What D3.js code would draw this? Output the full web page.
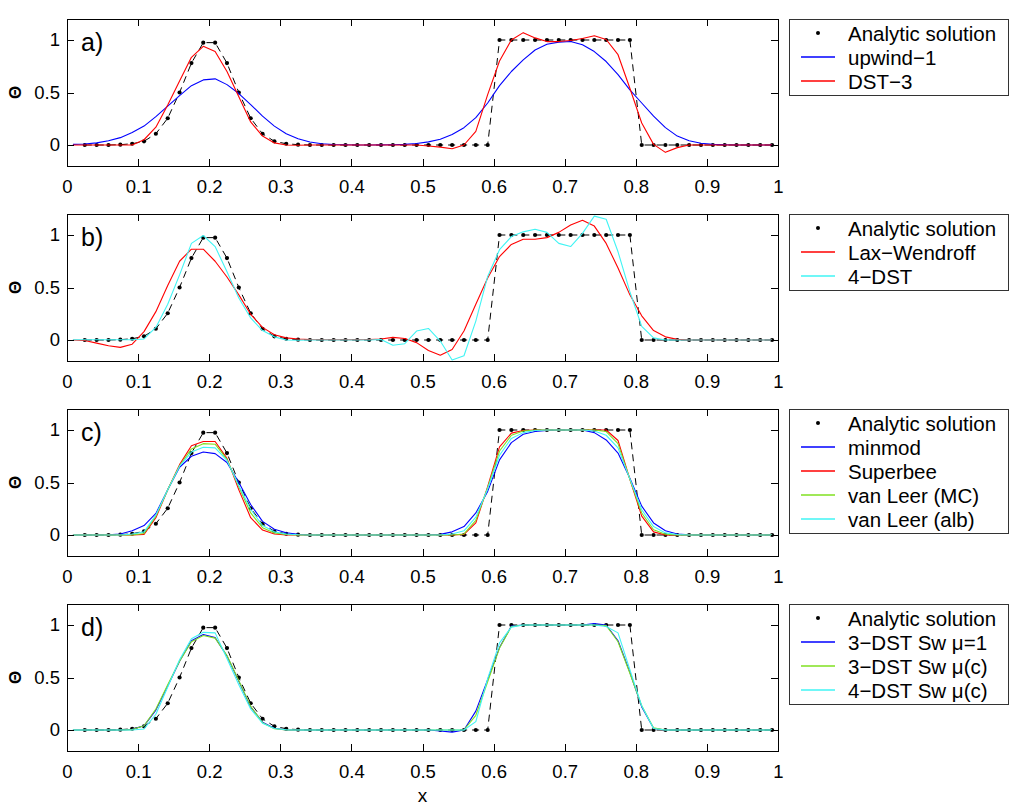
<!DOCTYPE html>
<html>
<head>
<meta charset="utf-8">
<script src="https://cdn.jsdelivr.net/npm/d3@7"></script>
<style>
  body { margin: 0; background: #fff; }
  svg { display: block; }
  text { font-family: "Liberation Sans", Arial, Helvetica, sans-serif; }
</style>
</head>
<body>
<svg width="1016" height="808"></svg>
<script>
// tick values
const xTicks = [0, 0.1, 0.2, 0.3, 0.4, 0.5, 0.6, 0.7, 0.8, 0.9, 1];
const yTicks = [0, 0.5, 1];

// 60 cell grid (null = not drawn)
const analytic = [
  null, 0, 0, 0, 0.003, 0.012, 0.035, 0.107, 0.255, 0.50,
  0.78, 0.975, 0.975, 0.78, 0.50, 0.255, 0.107, 0.035, 0.012, 0.003,
  0, 0, 0, 0, 0, 0, 0, 0, 0, 0,
  0, 0, 0, 0, 0, 0, 1, 1, 1, 1,
  1, 1, 1, 1, 1, 1, 1, 1, 0, 0,
  0, 0, 0, 0, 0, 0, 0, 0, 0, 0
];

// a)
const upwind1 = [
  0.006, 0.01, 0.02, 0.04, 0.07, 0.12, 0.18, 0.27, 0.37, 0.47,
  0.565, 0.62, 0.63, 0.575, 0.49, 0.385, 0.275, 0.18, 0.107, 0.06,
  0.028, 0.012, 0.005, 0.002, 0, 0, 0.001, 0.003, 0.006, 0.015,
  0.03, 0.055, 0.1, 0.165, 0.26, 0.40, 0.565, 0.70, 0.81, 0.905,
  0.96, 0.98, 0.985, 0.955, 0.89, 0.795, 0.67, 0.525, 0.40, 0.275,
  0.165, 0.085, 0.04, 0.016, 0.006, 0.002, 0, 0, 0, 0
];
const dst3 = [
  0, 0, 0, 0, 0, 0, 0.05, 0.17, 0.38, 0.61,
  0.835, 0.94, 0.89, 0.70, 0.46, 0.22, 0.085, 0.02, 0, -0.003,
  0, 0, 0, 0, 0, 0, 0, 0, 0, 0,
  -0.01, -0.02, -0.035, 0, 0.13, 0.48, 0.80, 1.0, 1.07, 1.02,
  0.985, 0.985, 0.995, 1.015, 1.04, 1.005, 0.86, 0.54, 0.21, 0.006,
  -0.07, -0.025, 0, 0, 0, 0, 0, 0, 0, 0
];

// b)
const laxWendroff = [
  0, -0.005, -0.03, -0.055, -0.07, -0.04, 0.08, 0.27, 0.52, 0.75,
  0.865, 0.865, 0.75, 0.60, 0.43, 0.245, 0.12, 0.05, 0.02, 0.01,
  0.005, 0.003, 0.003, 0.003, 0.003, 0.005, 0.01, 0.025, 0.015, -0.025,
  -0.10, -0.145, -0.09, 0.085, 0.34, 0.59, 0.795, 0.91, 0.96, 0.96,
  0.975, 1.025, 1.095, 1.14, 1.085, 0.92, 0.685, 0.43, 0.23, 0.09,
  0.03, 0.006, 0, 0, 0, 0, 0, 0, 0, 0
];
const dst4 = [
  0.003, 0.003, 0.003, 0.003, 0.003, 0.003, 0.01, 0.12, 0.34, 0.62,
  0.92, 0.995, 0.89, 0.65, 0.40, 0.21, 0.09, 0.03, 0, -0.003,
  0, 0, 0, 0, 0, 0, 0.005, -0.05, -0.035, 0.085,
  0.11, -0.01, -0.19, -0.15, 0.18, 0.605, 0.86, 0.985, 1.03, 1.055,
  1.025, 0.92, 0.89, 1.015, 1.18, 1.15, 0.84, 0.46, 0.13, 0.02,
  0, 0, 0, 0, 0, 0, 0, 0, 0, 0
];

// c)
const minmod = [
  0, 0, 0, 0.003, 0.01, 0.04, 0.09, 0.205, 0.43, 0.645,
  0.75, 0.79, 0.775, 0.69, 0.50, 0.29, 0.13, 0.055, 0.022, 0.006,
  0, 0, 0, 0, 0, 0, 0, 0, 0, 0,
  0.003, 0.006, 0.03, 0.08, 0.21, 0.415, 0.715, 0.88, 0.96, 0.985,
  0.995, 1, 1, 1, 0.975, 0.905, 0.78, 0.54, 0.275, 0.115,
  0.04, 0.01, 0.003, 0, 0, 0, 0, 0, 0, 0
];
const superbee = [
  0, 0, 0, 0, 0, 0, 0.006, 0.165, 0.43, 0.67,
  0.85, 0.89, 0.89, 0.73, 0.43, 0.165, 0.047, 0.01, 0, 0,
  0, 0, 0, 0, 0, 0, 0, 0, 0, 0,
  0, 0, 0, 0.006, 0.115, 0.46, 0.84, 0.97, 0.995, 1,
  1, 1, 1, 1, 1, 1, 0.9, 0.53, 0.18, 0.03,
  0, 0, 0, 0, 0, 0, 0, 0, 0, 0
];
const vanLeerMC = [
  0, 0, 0, 0, 0, 0, 0.015, 0.18, 0.43, 0.66,
  0.82, 0.87, 0.865, 0.72, 0.46, 0.21, 0.07, 0.02, 0.005, 0,
  0, 0, 0, 0, 0, 0, 0, 0, 0, 0,
  0, 0, 0, 0.01, 0.14, 0.45, 0.80, 0.95, 0.99, 1,
  1, 1, 1, 1, 1, 0.985, 0.87, 0.53, 0.21, 0.05,
  0.008, 0, 0, 0, 0, 0, 0, 0, 0, 0
];
const vanLeerAlb = [
  0, 0, 0, 0, 0, 0.01, 0.03, 0.19, 0.43, 0.655,
  0.79, 0.835, 0.83, 0.71, 0.47, 0.245, 0.09, 0.03, 0.01, 0.003,
  0, 0, 0, 0, 0, 0, 0, 0, 0, 0,
  0, 0, 0.01, 0.04, 0.17, 0.44, 0.76, 0.92, 0.975, 0.995,
  1, 1, 1, 1, 0.99, 0.95, 0.83, 0.535, 0.24, 0.08,
  0.02, 0.004, 0, 0, 0, 0, 0, 0, 0, 0
];

// d)
const sw3Mu1 = [
  0, 0, 0, 0, 0, 0.006, 0.04, 0.19, 0.42, 0.655,
  0.85, 0.91, 0.88, 0.705, 0.465, 0.22, 0.075, 0.016, 0, 0,
  0, 0, 0, 0, 0, 0, 0, 0, 0, 0,
  0, -0.01, -0.02, 0, 0.18, 0.48, 0.785, 0.99, 1, 1,
  1, 1, 1, 1, 1.013, 1.0, 0.85, 0.55, 0.22, 0.016,
  0, 0, 0, 0, 0, 0, 0, 0, 0, 0
];
const sw3MuC = [
  0, 0, 0, 0, 0, 0.004, 0.04, 0.20, 0.43, 0.655,
  0.84, 0.90, 0.875, 0.71, 0.47, 0.225, 0.07, 0.012, 0, 0,
  0, 0, 0, 0, 0, 0, 0, 0, 0, 0,
  0, 0, 0, 0, 0.14, 0.46, 0.78, 0.985, 1, 1,
  1, 1, 1, 1, 1, 0.995, 0.84, 0.54, 0.23, 0.02,
  0, 0, 0, 0, 0, 0, 0, 0, 0, 0
];
const sw4MuC = [
  0, 0, 0, 0, 0, 0, 0.01, 0.15, 0.41, 0.67,
  0.87, 0.93, 0.925, 0.68, 0.43, 0.20, 0.065, 0.015, 0.002, 0,
  0, 0, 0, 0, 0, 0, 0, 0, 0, 0,
  0, 0, 0, 0, 0.08, 0.49, 0.83, 0.98, 1, 1,
  1, 1, 1, 1, 1, 0.985, 0.925, 0.575, 0.23, 0.015,
  0, 0, 0, 0, 0, 0, 0, 0, 0, 0
];

// cell centres of the 60 point grid
const xGrid = d3.range(60).map(i => (i + 0.5) / 60);

const BLUE = '#0000ff', RED = '#ff0000', GREEN = '#80e020', CYAN = '#40f4f4';

const legendBox = (selection, props) => {
  const { entries, width, rowHeight, lineStart, lineEnd, textOffset } = props;
  selection.append('rect')
    .attr('x', 0.5)
    .attr('y', 0.5)
    .attr('width', width)
    .attr('height', rowHeight * entries.length + 4)
    .attr('fill', 'white')
    .attr('stroke', '#333')
    .attr('stroke-width', 1);

  const groups = selection.selectAll('g').data(entries)
    .enter().append('g')
      .attr('transform', (d, i) => `translate(0, ${14 + i * rowHeight})`);

  groups.filter(d => d.dot).append('circle')
    .attr('cx', (lineStart + lineEnd) / 2)
    .attr('cy', 0)
    .attr('r', 2)
    .attr('fill', '#000');

  // lines sit between two pixel rows so the colour survives on either parity
  groups.filter(d => !d.dot).append('line')
    .attr('x1', lineStart)
    .attr('x2', lineEnd)
    .attr('y1', 0)
    .attr('y2', 0)
    .style('stroke', d => d.color)
    .attr('stroke-width', 1.4);

  groups.append('text')
    .text(d => d.name)
    .attr('x', textOffset)
    .attr('y', 7.5)
    .attr('font-size', 20.5)
    .attr('fill', '#000');
};

(function (d3) {
  'use strict';
  const svg = d3.select('svg');

  const left = 67, right = 778;
  const firstTop = 19, plotH = 147, step = 195;

  const x = d3.scaleLinear().domain([0, 1]).range([left, right]);

  const panels = [
    { label: 'a)', series: [
      { name: 'upwind\u22121', values: upwind1, color: BLUE },
      { name: 'DST\u22123', values: dst3, color: RED } ] },
    { label: 'b)', series: [
      { name: 'Lax\u2212Wendroff', values: laxWendroff, color: RED },
      { name: '4\u2212DST', values: dst4, color: CYAN } ] },
    { label: 'c)', series: [
      { name: 'minmod', values: minmod, color: BLUE },
      { name: 'Superbee', values: superbee, color: RED },
      { name: 'van Leer (MC)', values: vanLeerMC, color: GREEN },
      { name: 'van Leer (alb)', values: vanLeerAlb, color: CYAN } ] },
    { label: 'd)', series: [
      { name: '3\u2212DST Sw \u03bc=1', values: sw3Mu1, color: BLUE },
      { name: '3\u2212DST Sw \u03bc(c)', values: sw3MuC, color: GREEN },
      { name: '4\u2212DST Sw \u03bc(c)', values: sw4MuC, color: CYAN } ] }
  ];

  const fontFamily = '"Liberation Sans", Arial, Helvetica, sans-serif';
  const styleAxis = g => {
    g.select('.domain').remove();
    g.attr('font-size', 18.5).attr('font-family', fontFamily);
    g.selectAll('.tick line').attr('stroke', '#000').attr('shape-rendering', 'crispEdges');
    g.selectAll('.tick text').attr('fill', '#000');
  };

  panels.forEach((panel, k) => {
    const top = firstTop + k * step;
    const bottom = top + plotH;
    const y = d3.scaleLinear().domain([-0.2, 1.2]).range([bottom, top]);

    const line = d3.line()
      .defined(d => d != null)
      .x((d, i) => x(xGrid[i]))
      .y(d => y(d));

    const g = svg.append('g');

    // analytic solution: dashed line + dots
    g.append('path')
      .datum(analytic)
      .attr('d', line)
      .attr('fill', 'none')
      .attr('stroke', '#000')
      .attr('stroke-width', 1)
      .attr('stroke-dasharray', '7,5');

    g.selectAll('circle.analytic')
      .data(analytic.map((v, i) => ({ x: xGrid[i], v })).filter(d => d.v != null))
      .enter().append('circle')
        .attr('class', 'analytic')
        .attr('cx', d => x(d.x))
        .attr('cy', d => y(d.v))
        .attr('r', 2.1)
        .attr('fill', '#000');

    // numerical schemes
    g.selectAll('path.scheme').data(panel.series)
      .enter().append('path')
        .attr('class', 'scheme')
        .attr('d', d => line(d.values))
        .attr('fill', 'none')
        .attr('stroke', d => d.color)
        .attr('stroke-width', 1.1)
        .attr('stroke-linejoin', 'round');

    // axes, ticks inward on all four sides
    svg.append('g')
      .attr('transform', `translate(0, ${bottom})`)
      .call(d3.axisBottom(x).tickValues(xTicks).tickSize(-7).tickSizeOuter(0)
        .tickPadding(14).tickFormat(d3.format('~g')))
      .call(styleAxis);
    svg.append('g')
      .attr('transform', `translate(0, ${top})`)
      .call(d3.axisTop(x).tickValues(xTicks).tickSize(-7).tickSizeOuter(0).tickFormat(''))
      .call(styleAxis);
    svg.append('g')
      .attr('transform', `translate(${left}, 0)`)
      .call(d3.axisLeft(y).tickValues(yTicks).tickSize(-7).tickSizeOuter(0)
        .tickPadding(7).tickFormat(d3.format('~g')))
      .call(styleAxis);
    svg.append('g')
      .attr('transform', `translate(${right}, 0)`)
      .call(d3.axisRight(y).tickValues(yTicks).tickSize(-7).tickSizeOuter(0).tickFormat(''))
      .call(styleAxis);

    svg.append('rect')
      .attr('x', left)
      .attr('y', top)
      .attr('width', right - left)
      .attr('height', plotH)
      .attr('fill', 'none')
      .attr('stroke', '#000')
      .attr('shape-rendering', 'crispEdges');

    // panel letter
    svg.append('text')
      .attr('x', 81)
      .attr('y', top + 32)
      .attr('font-size', 25)
      .text(panel.label);

    // y label (Theta)
    svg.append('text')
      .attr('transform', `translate(21, ${(top + bottom) / 2}) rotate(-90)`)
      .attr('text-anchor', 'middle')
      .attr('font-size', 17)
      .attr('font-family', '"Liberation Serif", "DejaVu Serif", serif')
      .attr('font-weight', 'bold')
      .text('\u0398');

    // legend
    svg.append('g')
      .attr('transform', `translate(789, ${top})`)
      .call(legendBox, {
        entries: [{ name: 'Analytic solution', dot: true }].concat(panel.series),
        width: 219,
        rowHeight: 24,
        lineStart: 12,
        lineEnd: 46,
        textOffset: 59
      });
  });

  svg.append('text')
    .attr('x', (left + right) / 2)
    .attr('y', 802)
    .attr('text-anchor', 'middle')
    .attr('font-size', 19)
    .text('x');
}(d3));
</script>
</body>
</html>
